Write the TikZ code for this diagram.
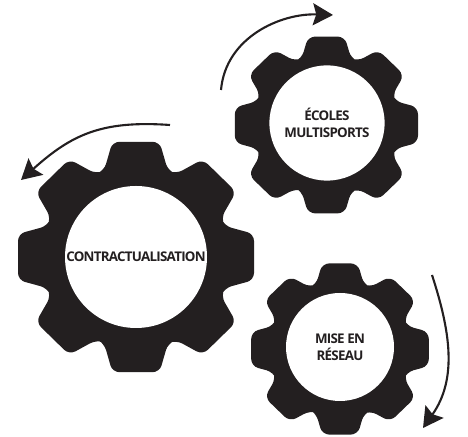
\documentclass[tikz,border=0pt]{standalone}
\usepackage{fontspec}
\setmainfont{Open Sans}[LetterSpace=-5.5]
\usepackage{xcolor}
\usetikzlibrary{arrows.meta}
\definecolor{gearblack}{HTML}{231F20}
\tikzset{
  gear/.pic={\fill[gearblack,rounded corners=5pt] (-112.5:.79)
    foreach \a in {0,45,...,315} {-- ([rotate=\a]-.27,-.75) -- ([rotate=\a]-.2,-1) -- ([rotate=\a].2,-1) -- ([rotate=\a].27,-.75)} -- cycle;},
  hub/.style={circle,fill=white,inner sep=0pt,align=center,text=gearblack,font=\fontsize{9.5}{12}\selectfont\bfseries},
  flow/.style={-{Stealth[length=0.5cm,width=0.55cm,inset=0.08cm,color=gearblack,fill=gearblack]},line width=1.5pt,draw=gearblack}
}
\begin{document}
\begin{tikzpicture}
    \useasboundingbox (0,0) rectangle (11.7,10.925);
    \pic[xscale=2.95,yscale=2.88] at (3.4,4.5) {gear};
    \pic[xscale=2.29,yscale=2.21] at (8.16,7.8) {gear};
    \pic[xscale=2.22,yscale=2.14] at (8.5,2.2) {gear};

    \node[hub,minimum size=3.55cm] (contract) at (3.4,4.5) {CONTRACTUALISATION};
    \node[hub,minimum size=2.88cm] (ecoles) at (8.175,7.85) {ÉCOLES\\MULTISPORTS};
    \node[hub,minimum size=2.7cm] (reseau) at (8.5,2.25) {MISE EN\\RÉSEAU};

    \coordinate (a1) at (4.25,7.8);
    \coordinate (b1) at (.525,6.425);
    \coordinate (a2) at (5.525,8.675);
    \coordinate (b2) at (8.325,10.55);
    \coordinate (a3) at (10.8,4.05);
    \coordinate (b3) at (10.575,.225);

    \draw [flow] (a1) to [out=176,in=42,looseness=1.1] (b1);
    \draw [flow] (a2) to [out=85,in=178] (b2);
    \draw [flow] (a3) to [out=-72,in=55] (b3);
\end{tikzpicture}
\end{document}
